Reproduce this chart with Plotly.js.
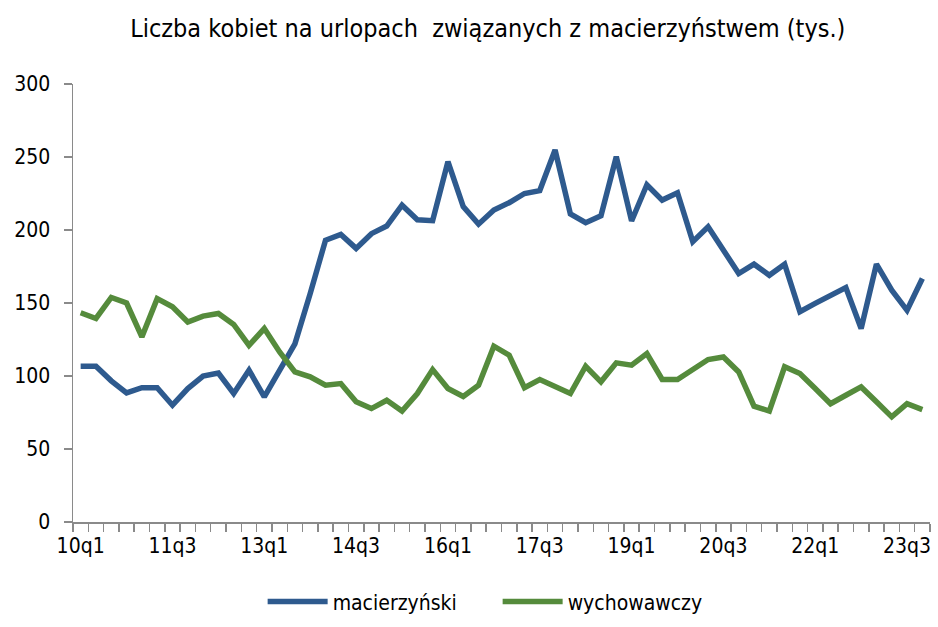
<!DOCTYPE html>
<html>
<head>
<meta charset="utf-8">
<script src="https://cdn.plot.ly/plotly-3.0.1.min.js"></script>
<style>html,body{margin:0;padding:0;background:#fff;}#chart{width:938px;height:627px;}</style>
</head>
<body>
<div id="chart"></div>
<script>
const quarters = [
  '10q1','10q2','10q3','10q4','11q1','11q2','11q3','11q4',
  '12q1','12q2','12q3','12q4','13q1','13q2','13q3','13q4',
  '14q1','14q2','14q3','14q4','15q1','15q2','15q3','15q4',
  '16q1','16q2','16q3','16q4','17q1','17q2','17q3','17q4',
  '18q1','18q2','18q3','18q4','19q1','19q2','19q3','19q4',
  '20q1','20q2','20q3','20q4','21q1','21q2','21q3','21q4',
  '22q1','22q2','22q3','22q4','23q1','23q2','23q3','23q4'
];
const labeledQuarters = ['10q1','11q3','13q1','14q3','16q1','17q3','19q1','20q3','22q1','23q3'];

const macierzynski = [
  106.7, 106.7, 96.7, 88.4, 92, 92, 80, 91.4,
  99.9, 102, 88, 104, 85.7, 104, 122, 156.5,
  193, 197, 187.4, 197.5, 202.7, 217, 207, 206.4,
  246.8, 216, 204, 213.7, 218.7, 225, 227, 254.8,
  211, 205, 209.8, 250.2, 206.2, 231, 220.5, 225.5,
  192, 202.2, 186.2, 170.2, 176.6, 169, 176.6, 144,
  149.7, 155.4, 160.6, 132.5, 176.6, 158.8, 145, 166.8
];
const wychowawczy = [
  143.3, 139.4, 153.8, 150, 126.8, 153, 147.4, 137,
  141, 142.8, 135.3, 121, 132.5, 116.5, 102.8, 99.4,
  93.7, 94.8, 82.3, 77.7, 83.4, 76, 88, 104.4,
  91.4, 86, 93.7, 120.4, 114.3, 92, 97.6, 92.5,
  88, 106.7, 96, 109, 107.4, 115.4, 97.6, 97.6,
  105, 111.3, 113, 102.8, 79.3, 76, 106.3, 101.7,
  91.4, 81, 86.8, 92.5, 82.3, 72, 81, 77
];

const FONT = "'DejaVu Sans Condensed', 'Liberation Sans Narrow', 'Arial Narrow', sans-serif";

const traces = [
  {x: quarters, y: macierzynski, name: 'macierzyński', type: 'scatter', mode: 'lines',
   line: {color: '#2E5A8E', width: 5.5}},
  {x: quarters, y: wychowawczy, name: 'wychowawczy', type: 'scatter', mode: 'lines',
   line: {color: '#558B3C', width: 5.5}}
];

const layout = {
  width: 938, height: 627,
  margin: {l: 73, r: 8, t: 84, b: 105},
  paper_bgcolor: '#fff', plot_bgcolor: '#fff',
  font: {family: FONT, color: '#000', size: 21},
  title: {text: 'Liczba kobiet na urlopach  związanych z macierzyństwem (tys.)',
          x: 0.52, xref: 'container', xanchor: 'center', y: 0.955, yref: 'container', yanchor: 'middle',
          font: {family: FONT, size: 25, color: '#000'}},
  showlegend: true,
  legend: {orientation: 'h', x: 0.28, xref: 'container', xanchor: 'left',
           y: 0.04, yref: 'container', yanchor: 'middle',
           font: {family: FONT, size: 21, color: '#000'}, itemwidth: 60,
           entrywidth: 160, entrywidthmode: 'pixels', tracegroupgap: 0},
  xaxis: {
    type: 'category', categoryorder: 'array', categoryarray: quarters,
    range: [-0.5, quarters.length - 0.5],
    tickmode: 'array', tickvals: quarters,
    ticktext: quarters.map(q => labeledQuarters.includes(q) ? q : ''),
    tickson: 'boundaries', ticks: 'outside', ticklen: 8, tickcolor: '#8a8a8a', tickwidth: 1.5,
    showline: true, linecolor: '#8a8a8a', linewidth: 1.5,
    showgrid: false, zeroline: false, tickangle: 0,
    ticklabelstandoff: 4,
    tickfont: {family: FONT, size: 21, color: '#000'}
  },
  yaxis: {
    range: [0, 300], tickvals: [0, 50, 100, 150, 200, 250, 300],
    ticks: 'outside', ticklen: 8, tickcolor: '#8a8a8a', tickwidth: 1.5,
    showline: true, linecolor: '#8a8a8a', linewidth: 1.5,
    showgrid: false, zeroline: false,
    ticklabelstandoff: 9,
    tickfont: {family: FONT, size: 21, color: '#000'}
  }
};

Plotly.newPlot('chart', traces, layout, {displayModeBar: false, staticPlot: true});
</script>
</body>
</html>
